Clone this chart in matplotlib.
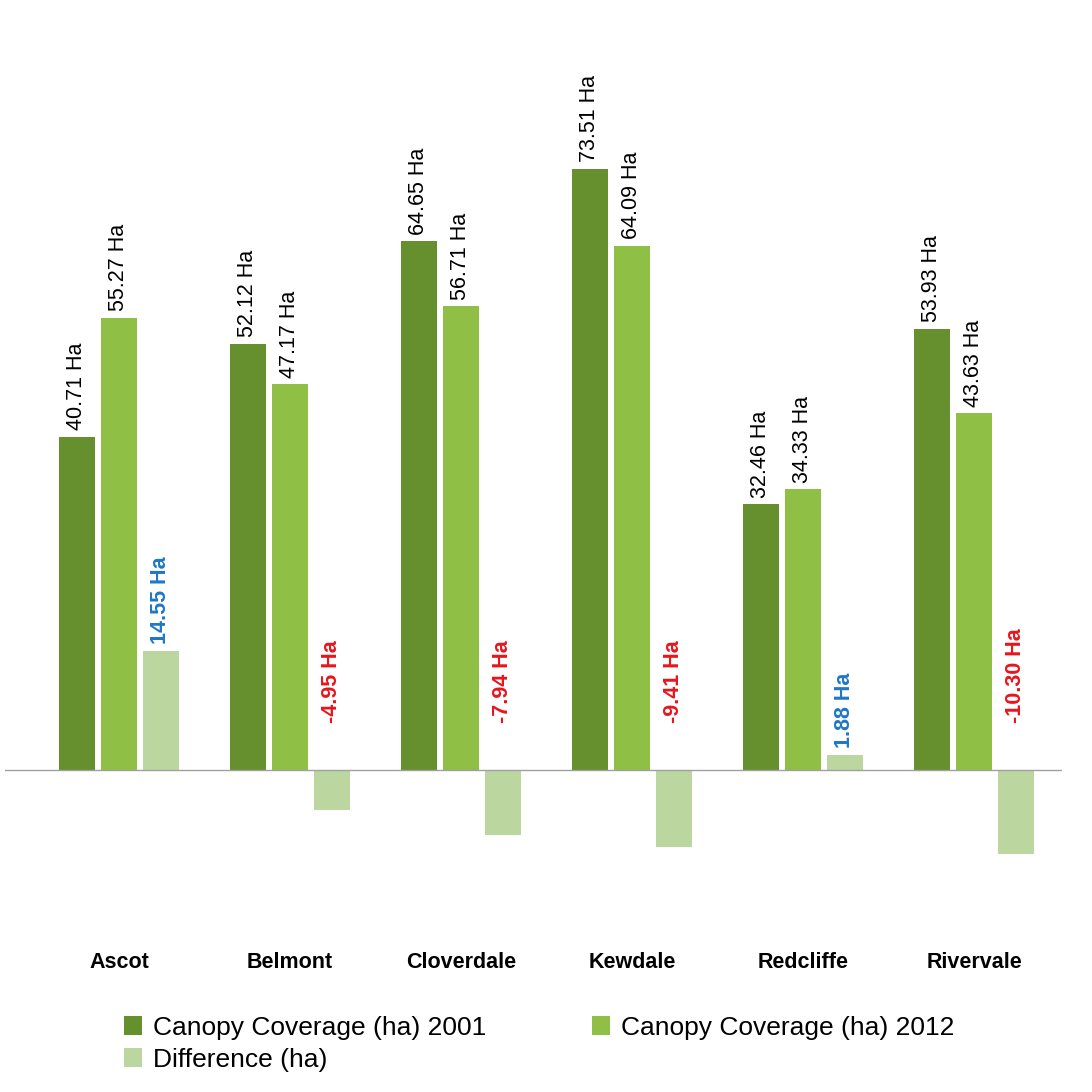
import matplotlib
matplotlib.use("Agg")
import matplotlib.pyplot as plt
import numpy as np

categories = ["Ascot", "Belmont", "Cloverdale", "Kewdale", "Redcliffe", "Rivervale"]
cov2001 = [40.71, 52.12, 64.65, 73.51, 32.46, 53.93]
cov2012 = [55.27, 47.17, 56.71, 64.09, 34.33, 43.63]
diff = [14.55, -4.95, -7.94, -9.41, 1.88, -10.30]

fig = plt.figure(figsize=(10.92, 10.92), dpi=100)
W = H = 1092
ax = fig.add_axes([5 / W, 1 - 925 / H, (1062 - 5) / W, (925 - 20) / H])
scale = 8.18
ax.set_ylim(-(925 - 770) / scale, (770 - 20) / scale)
ax.set_xlim(-114 / 171, (1062 - 119) / 171)

x = np.arange(len(categories))
w = 36 / 171
off = 42 / 171
c1, c2, c3 = "#668f2e", "#8fbf45", "#bcd6a0"
b1 = ax.bar(x - off, cov2001, w, color=c1, label="Canopy Coverage (ha) 2001")
b2 = ax.bar(x, cov2012, w, color=c2, label="Canopy Coverage (ha) 2012")
b3 = ax.bar(x + off, diff, w, color=c3, label="Difference (ha)")

fs = 15.5
for xi, v in zip(x - off, cov2001):
    ax.text(xi, v + 0.8, f"{v:.2f} Ha", rotation=90, ha="center", va="bottom", fontsize=fs, family="Liberation Sans")
for xi, v in zip(x, cov2012):
    ax.text(xi, v + 0.8, f"{v:.2f} Ha", rotation=90, ha="center", va="bottom", fontsize=fs, family="Liberation Sans")
for xi, v in zip(x + off, diff):
    col = "#1f77c4" if v > 0 else "#e8141b"
    y = v + 0.8 if v > 0 else 5.8
    ax.text(xi, y, f"{v:.2f} Ha", rotation=90, ha="center", va="bottom", fontsize=fs,
            fontweight="bold", color=col, family="Liberation Sans")

ax.axhline(0, color="#a0a0a0", lw=1)
for s in ax.spines.values():
    s.set_visible(False)
ax.set_yticks([])
ax.set_xticks([])
for xi, c in zip(x, categories):
    fig.text((119 + 171 * xi) / W, 1 - 963 / H, c, ha="center", va="center", fontsize=15.5,
             fontweight="bold", family="Liberation Sans")

fig.legend([b1, b3, b2], ["Canopy Coverage (ha) 2001", "Difference (ha)", "Canopy Coverage (ha) 2012"],
           loc="upper left", bbox_to_anchor=(100 / W, 1 - 992 / H), ncol=2, frameon=False,
           prop={"family": "Liberation Sans", "size": 19}, handlelength=0.7, handleheight=0.7,
           columnspacing=4.0, handletextpad=0.4, labelspacing=0.3)
fig.savefig("out.png", dpi=100)
